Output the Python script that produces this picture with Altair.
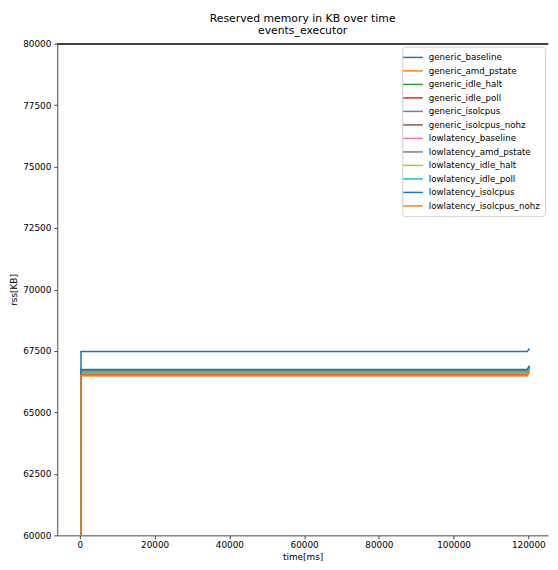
import altair as alt
import pandas as pd

series = [
    "generic_baseline", "generic_amd_pstate", "generic_idle_halt", "generic_idle_poll",
    "generic_isolcpus", "generic_isolcpus_nohz", "lowlatency_baseline", "lowlatency_amd_pstate",
    "lowlatency_idle_halt", "lowlatency_idle_poll", "lowlatency_isolcpus", "lowlatency_isolcpus_nohz",
]
colors = [
    "#1f77b4", "#ff7f0e", "#2ca02c", "#d62728", "#9467bd", "#8c564b",
    "#e377c2", "#7f7f7f", "#bcbd22", "#17becf", "#1f77b4", "#ff7f0e",
]
times = [250, 280, 119700, 120300]
start_kb = [5200] * 12
plateau_kb = [67480, 66490, 66640, 66560, 66700, 66680, 66600, 66720, 66620, 66650, 66750, 66500]
end_kb = [67600, 66640, 66790, 66710, 66850, 66830, 66750, 66870, 66770, 66800, 66900, 66650]

rows = []
for i, s in enumerate(series):
    vals = [start_kb[i], plateau_kb[i], plateau_kb[i], end_kb[i]]
    for j, (t, v) in enumerate(zip(times, vals)):
        rows.append({"series": s, "order": i, "idx": j, "time": t, "rss": v})
df = pd.DataFrame(rows)

FONT = "DejaVu Sans"
W, H = 498, 499

lines = alt.Chart(df).mark_line(strokeWidth=1.5, clip=True).encode(
    x=alt.X("time:Q", title="time[ms]",
            scale=alt.Scale(domain=[-6066, 125270], nice=False, zero=False),
            axis=alt.Axis(values=[0, 20000, 40000, 60000, 80000, 100000, 120000], format="d",
                          grid=False, tickSize=3.5, labelPadding=1.5, titlePadding=4,
                          domainColor="#444444", tickColor="#444444")),
    y=alt.Y("rss:Q", title="rss[KB]",
            scale=alt.Scale(domain=[60000, 80000], nice=False, zero=False),
            axis=alt.Axis(values=[60000, 62500, 65000, 67500, 70000, 72500, 75000, 77500, 80000],
                          format="d", grid=False, tickSize=3.5, labelPadding=3, titlePadding=4,
                          domainColor="#444444", tickColor="#444444")),
    color=alt.Color("series:N", sort=series,
                    scale=alt.Scale(domain=series, range=colors),
                    legend=alt.Legend(title=None, orient="top-right", offset=3, padding=5,
                                      strokeColor="#d0d0d0", fillColor="white", cornerRadius=3,
                                      symbolType="M-2,0L2,0", symbolSize=100, symbolStrokeWidth=1.5,
                                      labelOffset=10, rowPadding=2.7, labelFontSize=8.8, labelFont=FONT,
                                      labelLimit=200)),
    detail="series:N",
    order="idx:Q",
)

top_rule = alt.Chart(df).mark_rule(color="#444444", strokeWidth=1).encode(
    x=alt.value(0), x2=alt.value(W), y=alt.value(0)
)

chart = alt.layer(lines, top_rule).properties(
    width=W, height=H,
    title=alt.Title(["Reserved memory in KB over time", "events_executor"], fontSize=11,
                    font=FONT, fontWeight="normal", anchor="middle", offset=4, lineHeight=12),
    autosize=alt.AutoSizeParams(type="none"),
    padding={"left": 50, "top": 32, "right": 2, "bottom": 31},
).configure_view(stroke=None).configure_axis(
    labelFont=FONT, titleFont=FONT, labelFontSize=9, titleFontSize=9,
    titleFontWeight="normal", labelColor="#000000", titleColor="#000000"
)

chart.save("out.html", embed_options={"renderer": "svg", "actions": False})
